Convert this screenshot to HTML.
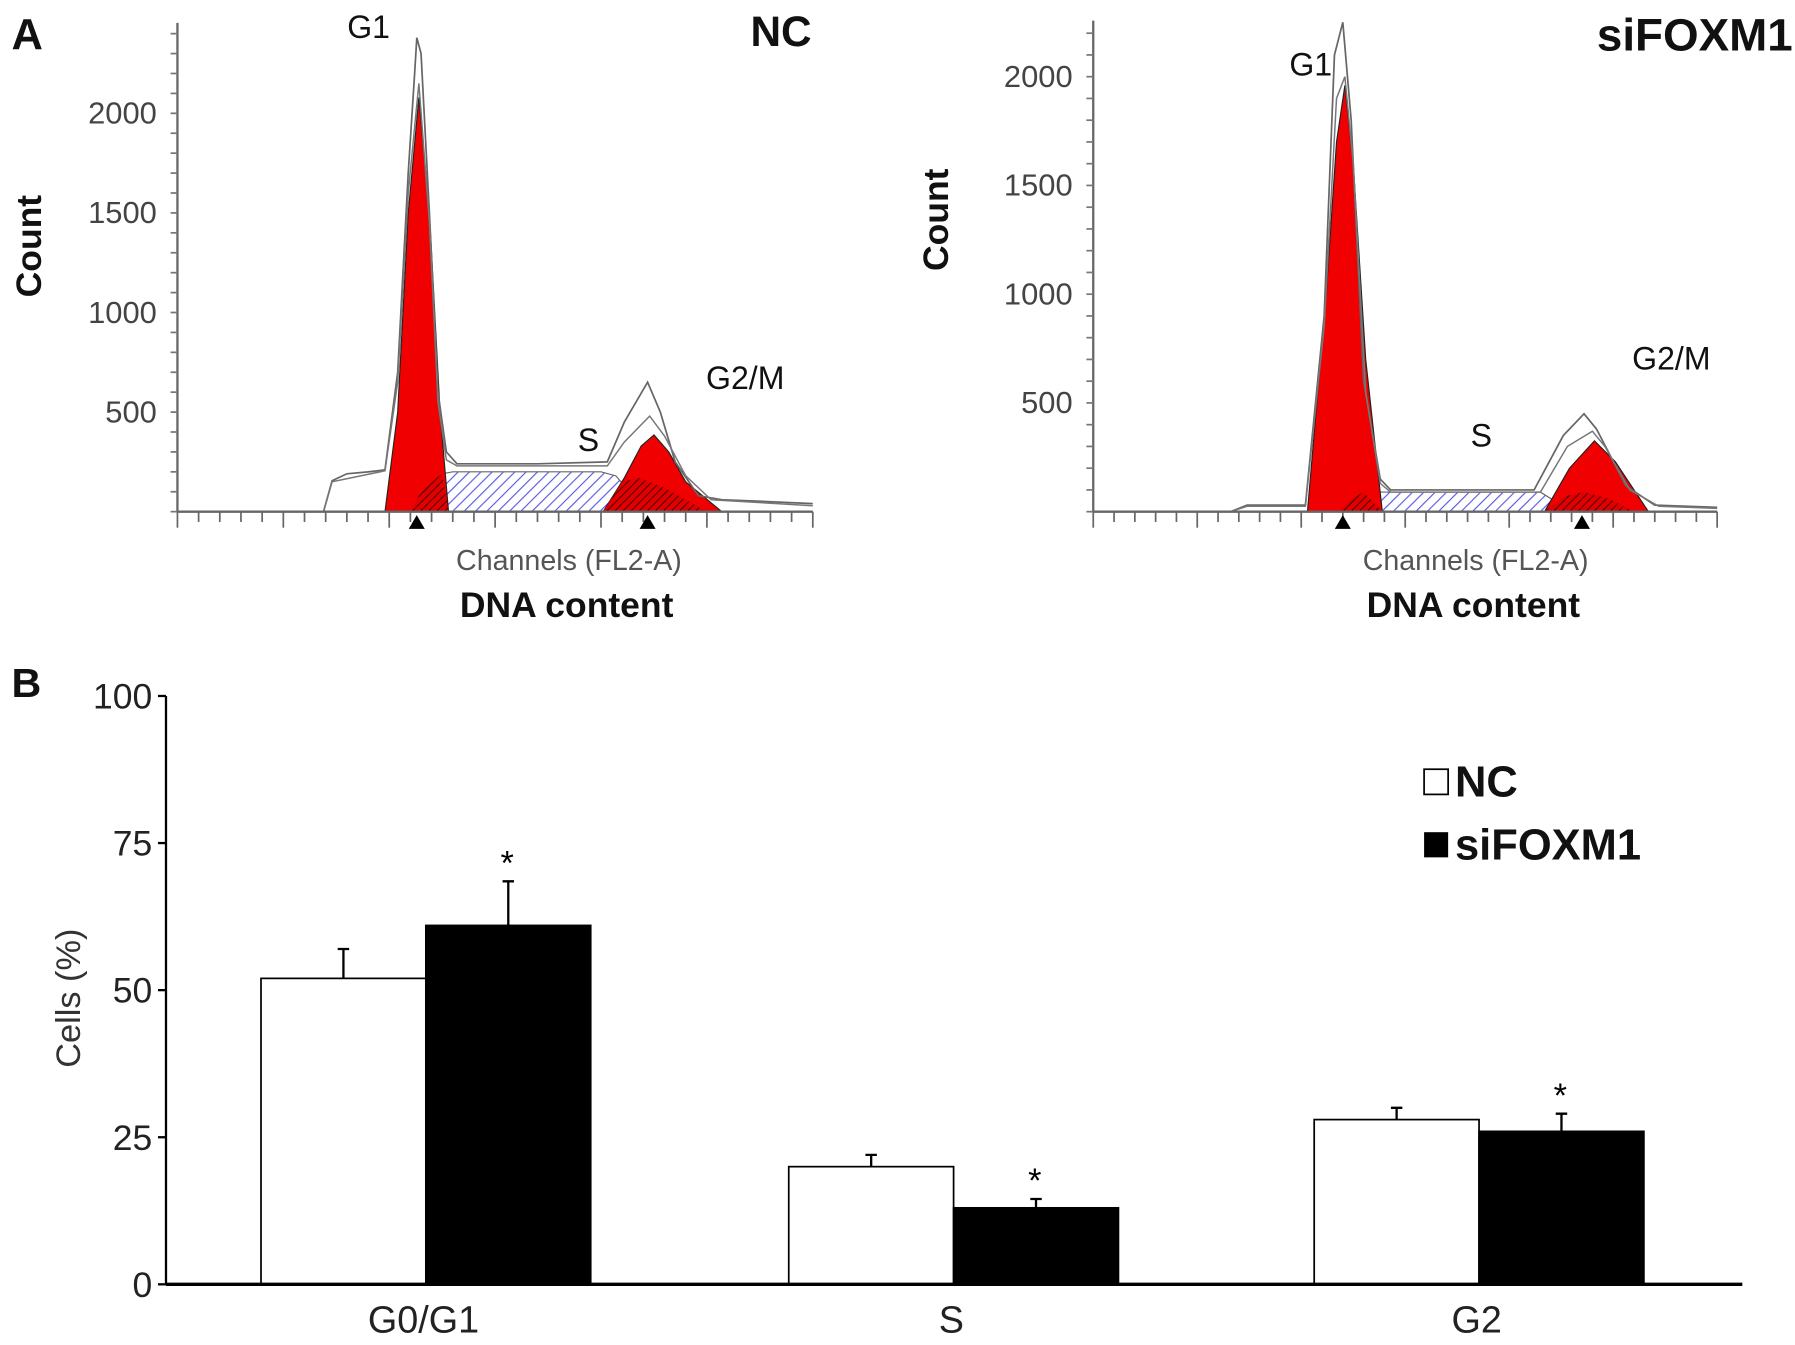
<!DOCTYPE html>
<html><head><meta charset="utf-8"><style>
html,body{margin:0;padding:0;background:#fff}
svg{display:block}
text{font-family:"Liberation Sans",Arial,sans-serif}
</style></head><body>
<svg id="fig" width="1795" height="1345" viewBox="0 0 1568 1175" preserveAspectRatio="none" xmlns="http://www.w3.org/2000/svg">
<defs>
<pattern id="blueHatch" width="7" height="7" patternUnits="userSpaceOnUse" patternTransform="rotate(45)"><rect width="7" height="7" fill="#fff"/><line x1="0" y1="0" x2="0" y2="7" stroke="#5a5ae0" stroke-width="2"/></pattern>
<pattern id="blackHatch" width="5" height="5" patternUnits="userSpaceOnUse" patternTransform="rotate(45)"><rect width="5" height="5" fill="#e00000"/><line x1="0" y1="0" x2="0" y2="5" stroke="#300" stroke-width="1.5"/></pattern>
</defs>
<g id="panelA"></g>
<g id="panelB"></g>
</svg>
<script>
// ---- Panel A data: histogram points [channel, count] ----
const ncG1Red = [[98,0],[104,500],[109,1500],[114,2080],[119,1500],[124,500],[128,0]];
const ncOutline1 = [[69,0],[73,155],[80,190],[90,200],[98,210],[104,700],[109,1700],[112,2200],[113,2380],[115,2300],[119,1500],[123,600],[127,300],[132,240],[170,240],[203,250],[211,450],[222,650],[228,500],[235,250],[246,80],[257,60],[280,50],[300,40]];
const ncOutline2 = [[69,0],[73,150],[98,205],[104,650],[109,1600],[114,2150],[119,1450],[123,550],[127,260],[132,230],[203,230],[211,350],[223,480],[230,380],[240,180],[252,60],[300,30]];
const ncSHatch = [[115,0],[120,110],[125,190],[130,200],[200,200],[207,180],[215,80],[222,0]];
const ncG2Red = [[201,0],[211,170],[219,330],[225,385],[232,300],[240,150],[257,0]];
const ncG1Tail = [[110,0],[115,100],[120,150],[125,190],[128,0]];
const ncG2Lead = [[201,0],[210,150],[218,170],[230,120],[250,0]];

const siG1Red = [[103,0],[112,1000],[117,1700],[121,1960],[125,1600],[131,700],[139,0]];
const siOutline1 = [[66,0],[74,30],[102,30],[111,900],[116,2100],[120,2250],[124,1800],[130,600],[138,150],[143,100],[212,100],[226,350],[236,450],[242,380],[256,120],[270,30],[300,20]];
const siOutline2 = [[66,0],[74,25],[102,25],[111,850],[117,1900],[121,2000],[125,1600],[131,550],[138,130],[143,90],[215,90],[228,300],[240,370],[246,300],[258,100],[272,25],[300,15]];
const siSHatch = [[120,0],[126,60],[131,90],[215,90],[220,60],[226,0]];
const siG2Red = [[217,0],[229,200],[241,326],[251,230],[267,0]];
const siG1Tail = [[118,0],[124,60],[130,90],[139,0]];
const siG2Lead = [[217,0],[226,70],[236,90],[248,60],[260,0]];

const yTicksA = [500,1000,1500,2000];

// ---- Panel B data ----
const categories = ["G0/G1","S","G2"];
const ncValues = [52,20,28];
const ncErrors = [5,2,2];
const siValues = [61,13,26];
const siErrors = [7.5,1.5,3];
const siSignificant = [true,true,true];
const yTicksB = [0,25,50,75,100];

const NS="http://www.w3.org/2000/svg";
function el(parent, tag, attrs, text){
  const e=document.createElementNS(NS,tag);
  for(const k in attrs) e.setAttribute(k,attrs[k]);
  if(text!==undefined) e.textContent=text;
  parent.appendChild(e); return e;
}
const A=document.getElementById('panelA');
const B=document.getElementById('panelB');

function histPanel(cfg){
  const g=el(A,'g',{});
  
  
  const x0=cfg.x0, x1=cfg.x1, base=cfg.base, k=cfg.k;
  const sx=c=>x0+c*(x1-x0)/300;
  const sy=v=>base-v*k;
  const path=pts=>pts.map((p,i)=>(i?'L':'M')+sx(p[0]).toFixed(1)+' '+sy(p[1]).toFixed(1)).join(' ');
  let p=el(g,'path',{d:path(cfg.s)+'Z',fill:'url(#blueHatch)',stroke:'#666','stroke-width':1});
  
  
  p=el(g,'path',{d:path(cfg.g1)+'Z',fill:'#f00000',stroke:'#222','stroke-width':1});
  
  
  p=el(g,'path',{d:path(cfg.g2)+'Z',fill:'#f00000',stroke:'#222','stroke-width':1});
  
  
  p=el(g,'path',{d:path(cfg.t1)+'Z',fill:'url(#blackHatch)',stroke:'none'});
  
  
  p=el(g,'path',{d:path(cfg.t2)+'Z',fill:'url(#blackHatch)',stroke:'none'});
  
  
  p=el(g,'path',{d:path(cfg.o1),fill:'none',stroke:'#666','stroke-width':1.5});
  
  
  p=el(g,'path',{d:path(cfg.o2),fill:'none',stroke:'#777','stroke-width':1.3});
  
  
  el(g,'line',{x1:x0,y1:cfg.top,x2:x0,y2:base,stroke:'#666','stroke-width':2});
  el(g,'line',{x1:x0,y1:base,x2:x1,y2:base,stroke:'#666','stroke-width':2});
  for(let v=0; sy(v)>=cfg.top; v+=100){
    el(g,'line',{x1:x0-6,y1:sy(v),x2:x0,y2:sy(v),stroke:'#777','stroke-width':1.5});
  }
  yTicksA.forEach(v=>{
    const t=el(g,'text',{x:x0-18,y:sy(v)+9,'text-anchor':'end','font-size':27,fill:'#444'},v);
    
    
  });
  for(let i=0;i<=30;i++){
    const x=x0+i*(x1-x0)/30;
    el(g,'line',{x1:x,y1:base,x2:x,y2:base+(i%5==0?14:9),stroke:'#666','stroke-width':1.5});
  }
  cfg.tri.forEach(c=>{
    const x=sx(c);
    const t=el(g,'path',{d:`M${x-7} ${base+15} L${x+7} ${base+15} L${x} ${base+3}Z`,fill:'#000'});
    
    
  });
  const lab=(x,y,s,txt,name,opts)=>{const t=el(g,'text',Object.assign({x:x,y:y,'font-size':s,fill:'#111','text-anchor':'middle'},opts||{}),txt);return t;};
  lab(cfg.cnt[0],cfg.cnt[1],31,'Count','y-axis-title',{'font-weight':'bold',transform:`rotate(-90 ${cfg.cnt[0]} ${cfg.cnt[1]})`});
  lab(cfg.chx,498,25,'Channels (FL2-A)','x-axis-title',{fill:'#555'});
  lab(cfg.chx-2,539,31,'DNA content','x-axis-subtitle',{'font-weight':'bold'});
  lab(cfg.g1l[0],cfg.g1l[1],28,'G1','g1-label');
  lab(cfg.sl[0],cfg.sl[1],28,'S','s-label');
  lab(cfg.g2l[0],cfg.g2l[1],28,'G2/M','g2m-label');
  lab(cfg.title[0],cfg.title[1],cfg.tsize,cfg.titleText,'panel-title',{'font-weight':'bold','text-anchor':'end'});
}
histPanel({name:'histogram-nc',x0:155,x1:710,base:447,top:20,k:0.174,g1:ncG1Red,g2:ncG2Red,s:ncSHatch,t1:ncG1Tail,t2:ncG2Lead,o1:ncOutline1,o2:ncOutline2,tri:[113,222],cnt:[36,215],chx:497,g1l:[322,33],sl:[514,394],g2l:[651,340],title:[709,40],tsize:37,titleText:'NC'});
histPanel({name:'histogram-sifoxm1',x0:955,x1:1500,base:447,top:18,k:0.19,g1:siG1Red,g2:siG2Red,s:siSHatch,t1:siG1Tail,t2:siG2Lead,o1:siOutline1,o2:siOutline2,tri:[120,235],cnt:[828,192],chx:1289,g1l:[1145,66],sl:[1294,390],g2l:[1460,323],title:[1566,44],tsize:40,titleText:'siFOXM1'});
let t=el(A,'text',{x:10,y:43,'font-size':38,'font-weight':'bold',fill:'#111'},'A');



// ---- Panel B ----
const bx0=145, bx1=1522, by0=1122, byTop=608;
const ys=v=>by0-v*(by0-byTop)/100;
const groupCenters=[372,833,1292];
const barW=144;
el(B,'line',{x1:bx0,y1:byTop,x2:bx0,y2:by0,stroke:'#000','stroke-width':2});
yTicksB.forEach(v=>{
  const l=el(B,'line',{x1:bx0-7,y1:ys(v),x2:bx0,y2:ys(v),stroke:'#000','stroke-width':2});
  
  
  const tt=el(B,'text',{x:bx0-12,y:ys(v)+11,'text-anchor':'end','font-size':31,fill:'#222'},v);
  
  
});
t=el(B,'text',{x:70,y:872,'text-anchor':'middle','font-size':30,fill:'#333',transform:'rotate(-90 70 872)'},'Cells (%)');


function bar(x,v,e,fill,name,star){
  const r=el(B,'rect',{x:x,y:ys(v),width:barW,height:by0-ys(v),fill:fill,stroke:'#000','stroke-width':1.5});
  
  
  const cx=x+barW/2;
  const eb=el(B,'path',{d:`M${cx} ${ys(v)} L${cx} ${ys(v+e)} M${cx-5} ${ys(v+e)} L${cx+5} ${ys(v+e)}`,stroke:'#000','stroke-width':2,fill:'none'});
  
  
  if(star){
    const s=el(B,'text',{x:cx-1,y:ys(v+e)-6,'text-anchor':'middle','font-size':30,fill:'#000'},'*');
    
    
  }
}
categories.forEach((c,i)=>{
  const cx=groupCenters[i];
  bar(cx-barW,ncValues[i],ncErrors[i],'#fff','bar-nc-'+c.toLowerCase().replace('/','-'),false);
  bar(cx,siValues[i],siErrors[i],'#000','bar-sifoxm1-'+c.toLowerCase().replace('/','-'),siSignificant[i]);
  const l=el(B,'text',{x:cx-2,y:1164,'text-anchor':'middle','font-size':33,fill:'#222'},c);
  
  
});
el(B,'line',{x1:bx0,y1:by0,x2:bx1,y2:by0,stroke:'#000','stroke-width':3});
const lg=el(B,'g',{});


el(lg,'rect',{x:1244,y:672,width:21,height:22,fill:'#fff',stroke:'#000','stroke-width':1.5});
t=el(lg,'text',{x:1271,y:696,'font-size':38,'font-weight':'bold',fill:'#111'},'NC');


el(lg,'rect',{x:1244,y:727,width:21,height:22,fill:'#000'});
t=el(lg,'text',{x:1271,y:751,'font-size':38,'font-weight':'bold',fill:'#111'},'siFOXM1');


t=el(B,'text',{x:10,y:609,'font-size':36,'font-weight':'bold',fill:'#111'},'B');


</script>
</body></html>
